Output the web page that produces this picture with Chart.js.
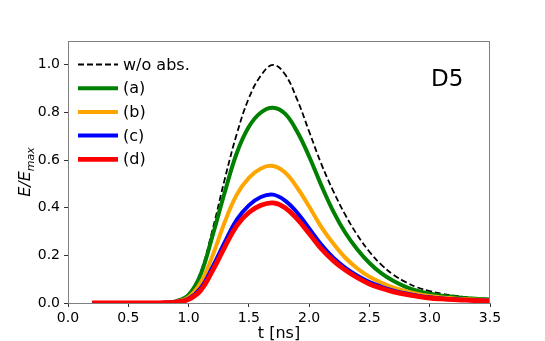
<!DOCTYPE html>
<html>
<head>
<meta charset="utf-8">
<script src="https://cdn.jsdelivr.net/npm/chart.js@4"></script>
<style>
  body { margin: 0; background: #fff; }
  #wrap { width: 545px; height: 341px; }
</style>
</head>
<body>
<div id="wrap"><canvas id="pulse"></canvas></div>
<script>
// time axis [ns]
const tValues = [0.2, 0.3, 0.4, 0.5, 0.6, 0.7, 0.8, 0.9, 1.0, 1.1, 1.2, 1.3, 1.4, 1.5, 1.6, 1.7,
  1.8, 1.9, 2.0, 2.1, 2.2, 2.3, 2.4, 2.5, 2.6, 2.7, 2.8, 2.9, 3.0, 3.1, 3.2, 3.3, 3.4, 3.5];

// E / E_max
const woAbs = [0, 0, 0, 0, 0, 0, 0.001, 0.008, 0.035, 0.13, 0.31, 0.52, 0.71, 0.86, 0.955, 1.0,
  0.96, 0.855, 0.72, 0.585, 0.47, 0.37, 0.285, 0.215, 0.16, 0.118, 0.088, 0.065, 0.05, 0.039, 0.031, 0.025, 0.02, 0.017];
const caseA = [0, 0, 0, 0, 0, 0, 0.001, 0.008, 0.034, 0.12, 0.285, 0.465, 0.63, 0.74, 0.80, 0.82,
  0.795, 0.72, 0.615, 0.495, 0.385, 0.295, 0.225, 0.168, 0.124, 0.092, 0.068, 0.051, 0.039, 0.031, 0.025, 0.02, 0.017, 0.015];
const caseB = [0, 0, 0, 0, 0, 0, 0.001, 0.006, 0.024, 0.085, 0.2, 0.34, 0.455, 0.525, 0.565, 0.575,
  0.548, 0.485, 0.405, 0.32, 0.25, 0.19, 0.145, 0.11, 0.085, 0.065, 0.05, 0.038, 0.029, 0.023, 0.019, 0.016, 0.014, 0.012];
const caseC = [0, 0, 0, 0, 0, 0, 0.001, 0.005, 0.018, 0.062, 0.152, 0.255, 0.35, 0.41, 0.445, 0.455,
  0.43, 0.38, 0.313, 0.245, 0.19, 0.148, 0.115, 0.088, 0.068, 0.052, 0.04, 0.031, 0.024, 0.019, 0.016, 0.013, 0.011, 0.01];
const caseD = [0, 0, 0, 0, 0, 0, 0.001, 0.004, 0.015, 0.053, 0.137, 0.235, 0.325, 0.38, 0.41, 0.42,
  0.4, 0.353, 0.292, 0.228, 0.178, 0.138, 0.106, 0.08, 0.062, 0.047, 0.036, 0.028, 0.021, 0.017, 0.014, 0.012, 0.01, 0.009];

const seriesLabels = ['w/o abs.', '(a)', '(b)', '(c)', '(d)'];
const xTicks = [0, 0.5, 1.0, 1.5, 2.0, 2.5, 3.0, 3.5];
const yTicks = [0, 0.2, 0.4, 0.6, 0.8, 1.0];

const FONT = '"DejaVu Sans", "Liberation Sans", sans-serif';

function pts(ys) {
  return tValues.map((t, i) => ({ x: t, y: ys[i] }));
}

function mkLine(label, ys, color, width, order, dash) {
  return {
    label: label,
    data: pts(ys),
    borderColor: color,
    backgroundColor: color,
    borderWidth: width,
    borderDash: dash || [],
    pointRadius: 0,
    fill: false,
    tension: 0.4,
    order: order
  };
}

// frame, axis titles, in-axes legend and panel tag
const decorations = {
  id: 'decorations',
  afterDraw(chart) {
    const ctx = chart.ctx;
    const a = chart.chartArea;
    ctx.save();

    ctx.strokeStyle = '#808080';
    ctx.lineWidth = 1;
    ctx.strokeRect(a.left + 0.5, a.top + 0.5, a.right - a.left - 1, a.bottom - a.top);

    ctx.fillStyle = '#000';
    ctx.textBaseline = 'alphabetic';

    // x title
    ctx.font = '16px ' + FONT;
    ctx.textAlign = 'center';
    ctx.fillText('t [ns]', (a.left + a.right) / 2, 338);

    // y title  E/E_max
    ctx.save();
    ctx.translate(30, (a.top + a.bottom) / 2);
    ctx.rotate(-Math.PI / 2);
    ctx.textAlign = 'left';
    const mainF = 'italic 16px ' + FONT;
    const subF = 'italic 11px ' + FONT;
    ctx.font = mainF;
    const w1 = ctx.measureText('E/E').width;
    ctx.font = subF;
    const w2 = ctx.measureText('max').width;
    const x0 = -(w1 + w2) / 2;
    ctx.font = mainF;
    ctx.fillText('E/E', x0, 0);
    ctx.font = subF;
    ctx.fillText('max', x0 + w1, 4);
    ctx.restore();

    // legend
    ctx.textAlign = 'left';
    ctx.textBaseline = 'middle';
    ctx.font = '16px ' + FONT;
    chart.data.datasets.forEach((ds, i) => {
      const y = 64.5 + i * 23.7;
      ctx.beginPath();
      ctx.strokeStyle = ds.borderColor;
      ctx.lineWidth = ds.borderWidth;
      ctx.setLineDash(ds.borderDash);
      ctx.moveTo(78, y);
      ctx.lineTo(118, y);
      ctx.stroke();
      ctx.setLineDash([]);
      ctx.fillText(ds.label, 123, y + 1);
    });

    // panel tag
    ctx.font = '23px ' + FONT;
    ctx.textBaseline = 'alphabetic';
    ctx.fillText('D5', 431, 86);

    ctx.restore();
  }
};

const ctx = document.getElementById('pulse');
new Chart(ctx, {
  type: 'line',
  data: {
    datasets: [
      mkLine(seriesLabels[0], woAbs, '#000000', 1.8, 4, [6, 3]),
      mkLine(seriesLabels[1], caseA, '#008000', 4, 3),
      mkLine(seriesLabels[2], caseB, '#ffa500', 4, 2),
      mkLine(seriesLabels[3], caseC, '#0000ff', 4, 1),
      mkLine(seriesLabels[4], caseD, '#ff0000', 4.8, 0)
    ]
  },
  options: {
    responsive: true,
    maintainAspectRatio: false,
    animation: false,
    layout: { padding: { left: 0, top: 41, right: 55, bottom: 0 } },
    plugins: {
      legend: { display: false },
      tooltip: { enabled: false }
    },
    scales: {
      x: {
        type: 'linear',
        min: 0,
        max: 3.5,
        afterBuildTicks: s => { s.ticks = xTicks.map(v => ({ value: v })); },
        afterFit: s => { s.height = 38; },
        ticks: {
          color: '#000',
          font: { family: FONT, size: 14 },
          padding: 3,
          maxRotation: 0,
          callback: v => v.toFixed(1)
        },
        grid: { drawOnChartArea: false, drawTicks: true, tickLength: 4, color: '#333' },
        border: { color: '#808080', width: 1 }
      },
      y: {
        min: 0,
        max: 1.1,
        afterBuildTicks: s => { s.ticks = yTicks.map(v => ({ value: v })); },
        afterFit: s => { s.width = 68; },
        ticks: {
          color: '#000',
          font: { family: FONT, size: 14 },
          padding: 4,
          callback: v => v.toFixed(1)
        },
        grid: { drawOnChartArea: false, drawTicks: true, tickLength: 4, color: '#333' },
        border: { color: '#808080', width: 1 }
      }
    }
  },
  plugins: [decorations]
});
</script>
</body>
</html>
